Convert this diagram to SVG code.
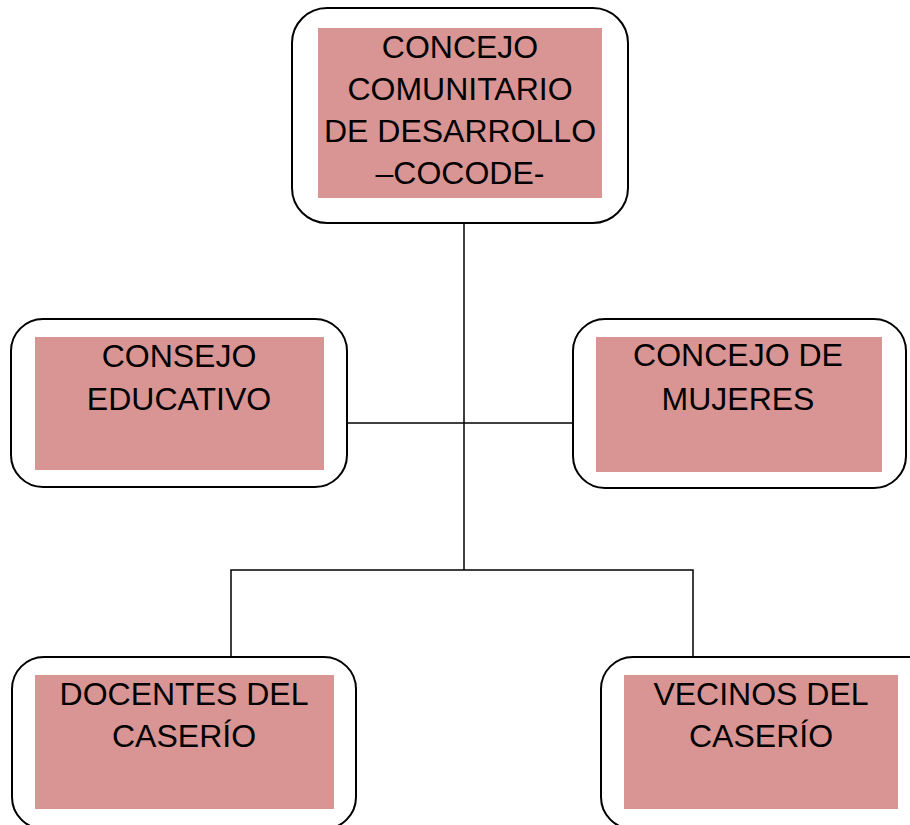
<svg xmlns="http://www.w3.org/2000/svg" width="910" height="825" viewBox="0 0 910 825">
<style>
.outer{fill:#ffffff;stroke:#000000;stroke-width:2}
.inner{fill:#D99594;stroke:none}
.t{font-family:"Liberation Sans",Arial,sans-serif;font-size:32px;fill:#000000;text-anchor:middle}
.c{fill:none;stroke:#000000;stroke-width:1.5}
</style>
<rect width="910" height="825" fill="#ffffff"/>
<g id="connectors">
<line class="c" x1="464" y1="223" x2="464" y2="570"/>
<line class="c" x1="347" y1="423" x2="573" y2="423"/>
<polyline class="c" points="231,657 231,570 693,570 693,657"/>
</g>
<g id="cocode">
<rect class="outer" x="292" y="8" width="336" height="215" rx="35" ry="35"/>
<rect class="inner" x="318" y="28" width="284" height="170"/>
<text class="t" x="460" y="58">CONCEJO</text>
<text class="t" x="460" y="100">COMUNITARIO</text>
<text class="t" x="460" y="142">DE DESARROLLO</text>
<text class="t" x="460" y="184">–COCODE-</text>
</g>
<g id="consejo-educativo">
<rect class="outer" x="11" y="319" width="336" height="168" rx="32" ry="32"/>
<rect class="inner" x="35" y="337" width="289" height="133"/>
<text class="t" x="179" y="367">CONSEJO</text>
<text class="t" x="179" y="410">EDUCATIVO</text>
</g>
<g id="concejo-mujeres">
<rect class="outer" x="573" y="319" width="333" height="169" rx="32" ry="32"/>
<rect class="inner" x="596" y="337" width="286" height="135"/>
<text class="t" x="738" y="366">CONCEJO DE</text>
<text class="t" x="738" y="410">MUJERES</text>
</g>
<g id="docentes">
<rect class="outer" x="12" y="657" width="344" height="172" rx="32" ry="32"/>
<rect class="inner" x="35" y="675" width="299" height="134"/>
<text class="t" x="184" y="705">DOCENTES DEL</text>
<text class="t" x="184" y="747">CASERÍO</text>
</g>
<g id="vecinos">
<rect class="outer" x="601" y="657" width="340" height="172" rx="32" ry="32"/>
<rect class="inner" x="624" y="675" width="274" height="134"/>
<text class="t" x="761" y="705">VECINOS DEL</text>
<text class="t" x="761" y="747">CASERÍO</text>
</g>
</svg>
